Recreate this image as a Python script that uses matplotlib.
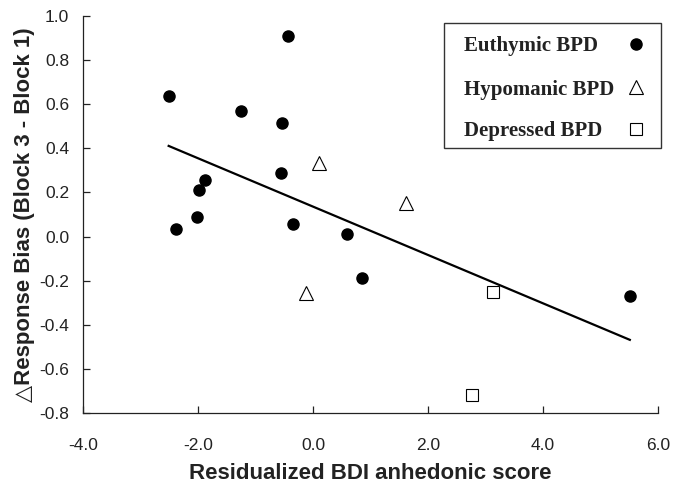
import numpy as np
import matplotlib
matplotlib.use("Agg")
from matplotlib import pyplot as plt
from matplotlib.patches import Rectangle
from matplotlib.ticker import FuncFormatter

plt.rcParams['axes.unicode_minus'] = False

# values
euthymic_x = [-2.51, -0.44, -1.25, -0.54, -1.88, -1.99, -2.02, -2.39, -0.56, -0.35, 0.59, 0.85, 5.51]
euthymic_y = [0.637, 0.911, 0.571, 0.516, 0.258, 0.211, 0.090, 0.033, 0.287, 0.059, 0.010, -0.186, -0.268]
hypomanic_x = [0.10, 1.61, -0.12]
hypomanic_y = [0.332, 0.154, -0.257]
depressed_x = [3.13, 2.77]
depressed_y = [-0.251, -0.720]

x_ticks = [-4, -2, 0, 2, 4, 6]
y_ticks = [-0.8, -0.6, -0.4, -0.2, 0.0, 0.2, 0.4, 0.6, 0.8, 1.0]
group_names = ['Euthymic BPD', 'Hypomanic BPD', 'Depressed BPD']

fig = plt.figure(figsize=(6.83, 4.84), dpi=100)
ax = fig.add_axes([0.1215, 0.1467, 0.8419, 0.8203])

styles = [
    dict(marker='o', ms=8, mfc='k', mec='k'),
    dict(marker='^', ms=9.5, mfc='white', mec='k', mew=0.8),
    dict(marker='s', ms=8, mfc='white', mec='k', mew=0.8),
]
groups = [(euthymic_x, euthymic_y), (hypomanic_x, hypomanic_y), (depressed_x, depressed_y)]
for (gx, gy), st in zip(groups, styles):
    ax.plot(gx, gy, ls='none', zorder=3, **st)

# regression line over all subjects
all_x = np.array(euthymic_x + hypomanic_x + depressed_x)
all_y = np.array(euthymic_y + hypomanic_y + depressed_y)
slope, icpt = np.polyfit(all_x, all_y, 1)
xs = np.array([all_x.min(), all_x.max()])
ax.plot(xs, icpt + slope * xs, color='k', lw=1.6, zorder=2)

ax.set_xlim(-4, 6)
ax.set_ylim(-0.8, 1.0)
ax.set_xticks(x_ticks)
ax.set_yticks(y_ticks)
fmt = FuncFormatter(lambda v, p: f"{v:.1f}")
ax.xaxis.set_major_formatter(fmt)
ax.yaxis.set_major_formatter(fmt)

for s in ['top', 'right']:
    ax.spines[s].set_visible(False)
for s in ['left', 'bottom']:
    ax.spines[s].set_linewidth(0.9)
    ax.spines[s].set_color('#222222')

ax.tick_params(axis='both', direction='in', length=5, width=0.9, color='#222222',
               labelsize=12.5, labelcolor='#222222')
ax.tick_params(axis='x', pad=18)
ax.tick_params(axis='y', pad=10)
for lab in ax.get_xticklabels() + ax.get_yticklabels():
    lab.set_family('Liberation Sans')

ax.set_xlabel('Residualized BDI anhedonic score', fontsize=16, fontweight='bold',
              family='Liberation Sans', color='#222222', labelpad=7)
ax.set_ylabel('\u25b3Response Bias (Block 3 - Block 1)', fontsize=16, fontweight='bold',
              family=['Liberation Sans', 'DejaVu Sans'], color='#222222', labelpad=3)

# legend box: labels on the left, symbols on the right
ax.add_patch(Rectangle((0.628, 0.6675), 0.377, 0.3145, transform=ax.transAxes,
                       facecolor='white', edgecolor='#333333', lw=1.0, clip_on=False, zorder=4))
row_y = [0.9295, 0.821, 0.7154]
for name, st, yy in zip(group_names, styles, row_y):
    ax.text(0.6626, yy, name, transform=ax.transAxes, ha='left', va='center_baseline',
            family='Liberation Serif', fontweight='bold', fontsize=15, color='#222222', zorder=5)
    ax.plot([0.9617], [yy], transform=ax.transAxes, ls='none', clip_on=False, zorder=5, **st)

fig.savefig('out.png', dpi=100)
